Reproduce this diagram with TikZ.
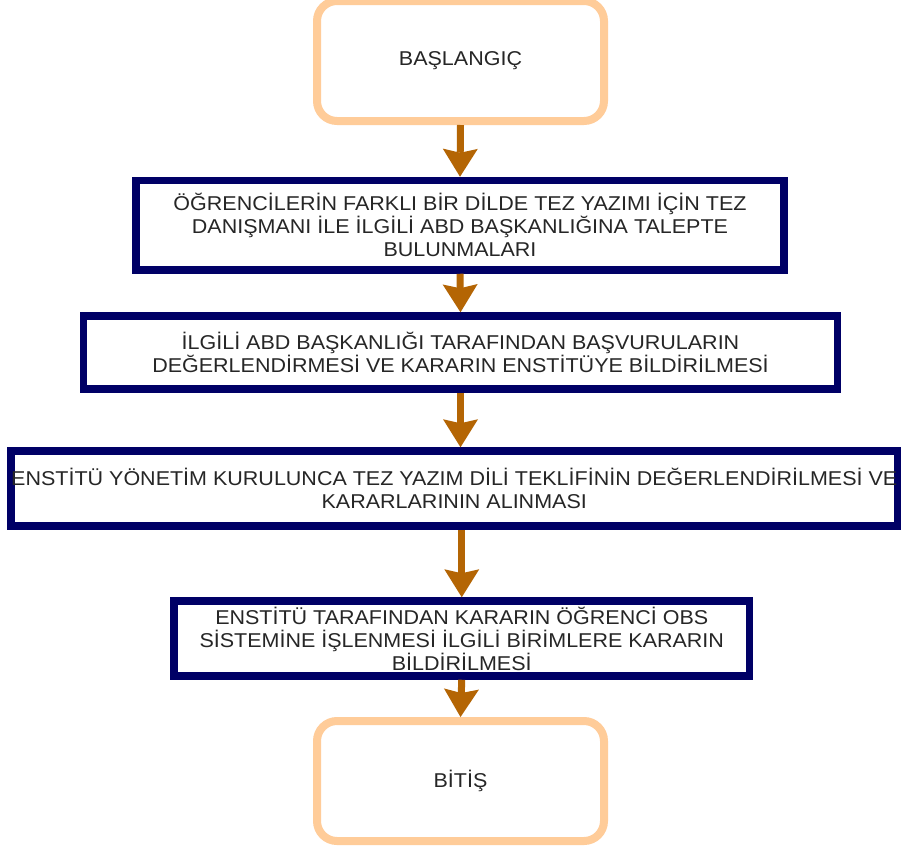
\documentclass[tikz,border=0pt]{standalone}
\usepackage{fontspec}
\setmainfont[FakeStretch=1.075]{Liberation Sans}
\usetikzlibrary{arrows.meta}
\definecolor{peach}{HTML}{FFCC99}
\definecolor{navy}{HTML}{000066}
\definecolor{arrowc}{HTML}{B46504}
\definecolor{txt}{HTML}{262626}
\tikzset{
  term/.style={draw=peach, line width=8pt, rounded corners=20pt, fill=white, inner sep=0pt,
    align=center, text=txt, font=\fontsize{20}{23}\selectfont},
  proc/.style={draw=navy, line width=7.5pt, fill=white, inner sep=0pt,
    align=center, text=txt, font=\fontsize{20}{23}\selectfont},
  arr/.style={draw=arrowc, line width=7pt,
    -{Stealth[length=28pt,width=35pt,inset=4pt,line width=0pt]}}
}
\begin{document}
\begin{tikzpicture}[x=1pt,y=-1pt]
\useasboundingbox[fill=white] (0,0) rectangle (903,846);
\node[term, minimum width=287pt, minimum height=120pt] (start) at (460.5,61) {BAŞLANGIÇ};
\node[proc, minimum width=648pt, minimum height=89.5pt] (s1) at (460,225.25)
  {ÖĞRENCİLERİN FARKLI BİR DİLDE TEZ YAZIMI İÇİN TEZ\\DANIŞMANI İLE İLGİLİ ABD BAŞKANLIĞINA TALEPTE\\BULUNMALARI};
\node[proc, minimum width=754pt, minimum height=73pt] (s2) at (460.5,352.5)
  {İLGİLİ ABD BAŞKANLIĞI TARAFINDAN BAŞVURULARIN\\DEĞERLENDİRMESİ VE KARARIN ENSTİTÜYE BİLDİRİLMESİ};
\node[proc, minimum width=885.5pt, minimum height=75pt] (s3) at (454.25,488.5)
  {ENSTİTÜ YÖNETİM KURULUNCA TEZ YAZIM DİLİ TEKLİFİNİN DEĞERLENDİRİLMESİ VE\\KARARLARININ ALINMASI};
\node[proc, minimum width=575.5pt, minimum height=75pt] (s4) at (461.75,638.5)
  {ENSTİTÜ TARAFINDAN KARARIN ÖĞRENCİ OBS\\SİSTEMİNE İŞLENMESİ İLGİLİ BİRİMLERE KARARIN\\BİLDİRİLMESİ};
\node[term, minimum width=287pt, minimum height=120pt] (fin) at (460.5,781) {BİTİŞ};
\draw[arr] (start.south) -- (s1.north);
\draw[arr] (s1.south) -- (s2.north);
\draw[arr] (s2.south) -- (s3.north -| s2.south);
\draw[arr] (s3.south -| s4.north) -- (s4.north);
\draw[arr] (s4.south) -- (fin.north);
\end{tikzpicture}
\end{document}
